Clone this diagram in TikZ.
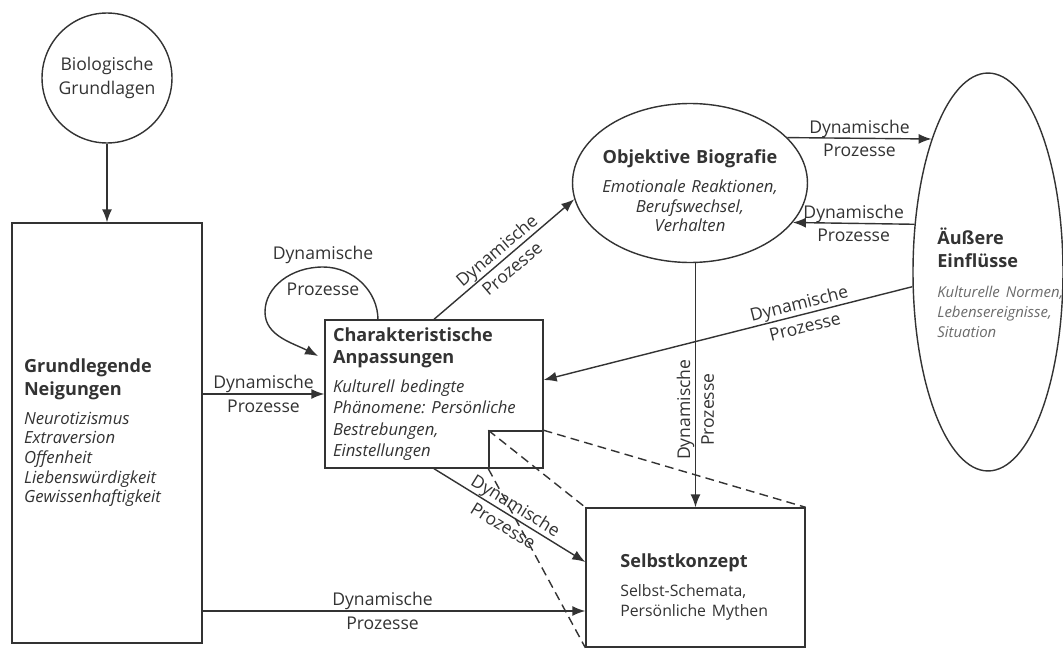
\documentclass[tikz,border=0pt]{standalone}
\usepackage{fontspec}
\setmainfont{Open Sans}
\usetikzlibrary{shapes.geometric, arrows.meta, positioning, calc}

\definecolor{ink}{gray}{0.2}
\definecolor{softink}{gray}{0.42}
\newcommand\lblfont{\fontsize{10}{13.5}\selectfont}
\newcommand\ttlfont{\normalfont\fontsize{10.3}{13}\selectfont\bfseries}
\newcommand\itmfont{\normalfont\fontsize{9.5}{11.2}\selectfont\itshape}
\newcommand\smlfont{\normalfont\fontsize{8.5}{11.4}\selectfont\itshape\color{softink}}
\newcommand\subfont{\normalfont\fontsize{9}{11.4}\selectfont}
\frenchspacing

\begin{document}
\begin{tikzpicture}[
  x=0.02cm, y=-0.02cm,
  every node/.style={text=ink},
  box/.style={draw=ink, line width=0.8pt, rectangle, inner sep=0pt},
  oval/.style={draw=ink, line width=0.8pt, ellipse, inner sep=0pt},
  arr/.style={draw=ink, line width=0.8pt, -{Latex[length=2.6mm, width=2mm]}},
  lbl/.style={font=\lblfont, align=center, inner sep=0pt},
  zoomline/.style={draw=ink, line width=0.8pt, dash pattern=on 5pt off 3pt},
]
\fill[white] (0,0) rectangle (1063,649);
\clip (0,0) rectangle (1063,649);

% Knoten
\node[circle, draw=ink, line width=0.8pt, minimum size=2.6cm, inner sep=0pt,
  align=center, font=\lblfont] (bio) at (107,78) {Biologische\\Grundlagen};

\node[box, minimum width=3.8cm, minimum height=8.4cm, text width=3.32cm, align=left] (gn) at (107,433)
  {\ttlfont Grundlegende\\Neigungen\par\vspace{5pt}
   \itmfont Neurotizismus\\Extraversion\\Offenheit\\Liebenswürdigkeit\\Gewissenhaftigkeit\par};

\node[box, minimum width=4.36cm, minimum height=2.96cm, text width=4.04cm, align=left] (ca) at (434,394)
  {\ttlfont Charakteristische\\Anpassungen\par\vspace{4pt}
   \itmfont\fontsize{9.5}{12.2}\selectfont Kulturell bedingte\\Phänomene: Persönliche\\Bestrebungen,\\Einstellungen\par};

\node[box, minimum width=1.08cm, minimum height=0.74cm, anchor=south east] (zf) at (ca.south east) {};

\node[box, minimum width=4.38cm, minimum height=2.78cm] (sk) at (695.5,577.5) {};
\node[anchor=west, text width=3.2cm, align=left, inner sep=0pt] (skt) at (620,587)
  {\ttlfont Selbstkonzept\par\vspace{5pt}
   \subfont Selbst-Schemata,\\Persönliche Mythen\par};

\node[oval, minimum width=4.7cm, minimum height=3.18cm] (ob) at (690,183) {};
\node[text width=4.2cm, align=center, inner sep=0pt] (obt) at (690,191)
  {\ttlfont Objektive Biografie\par\vspace{5pt}
   \itmfont Emotionale Reaktionen,\\Berufswechsel,\\Verhalten\par};

\node[oval, minimum width=3.0cm, minimum height=7.96cm] (ae) at (988,272) {};
\node[anchor=west, text width=3.0cm, align=left, inner sep=0pt] (aet) at (937,283)
  {\ttlfont Äußere\\Einflüsse\par\vspace{6pt}
   \smlfont Kulturelle Normen,\\Lebensereignisse,\\Situation\par};

% Verbindungen
\draw[arr] (bio.south) -- (gn.north);
\draw[arr] (gn.east |- ca.west) -- node[lbl] {Dynamische\\Prozesse} (ca.west);
\draw[arr] (gn.east |- 0,611) -- node[lbl, pos=0.47] {Dynamische\\Prozesse} (sk.west |- 0,611);
\draw[arr] (ca.south) -- node[lbl, sloped] {Dynamische\\Prozesse} (sk.west |- 0,562);
\draw[arr] (ca.north) -- node[lbl, sloped] {Dynamische\\Prozesse} (ob.188);
\draw[arr] (ob.25) -- node[lbl] {Dynamische\\Prozesse} (ae.113);
\draw[arr] (ae.147) -- node[lbl] {Dynamische\\Prozesse} (ob.-21.5);
\draw[arr] (ae.191) -- node[lbl, sloped, pos=0.3] {Dynamische\\Prozesse} (ca.east |- 0,380);
\draw[arr] (ob.south -| sk.north) -- node[lbl, rotate=90, pos=0.6] {Dynamische\\Prozesse} (sk.north);

% Schleife
\coordinate (loopout) at (378,320);
\coordinate (loopin) at (318,356);
\draw[arr] (loopout) .. controls (378,291) and (353,267) .. (323,267)
  .. controls (291,267) and (265,287) .. (265,312)
  .. controls (265,336) and (293,343) .. (loopin);
\node[lbl] (looplbl) at (323,271) {Dynamische\\[7pt]Prozesse};

% Ausschnitt
\draw[zoomline] (zf.north west) -- (sk.north west);
\draw[zoomline] (zf.north east) -- (sk.north east);
\draw[zoomline] (zf.south west) -- (sk.south west);
\end{tikzpicture}
\end{document}
